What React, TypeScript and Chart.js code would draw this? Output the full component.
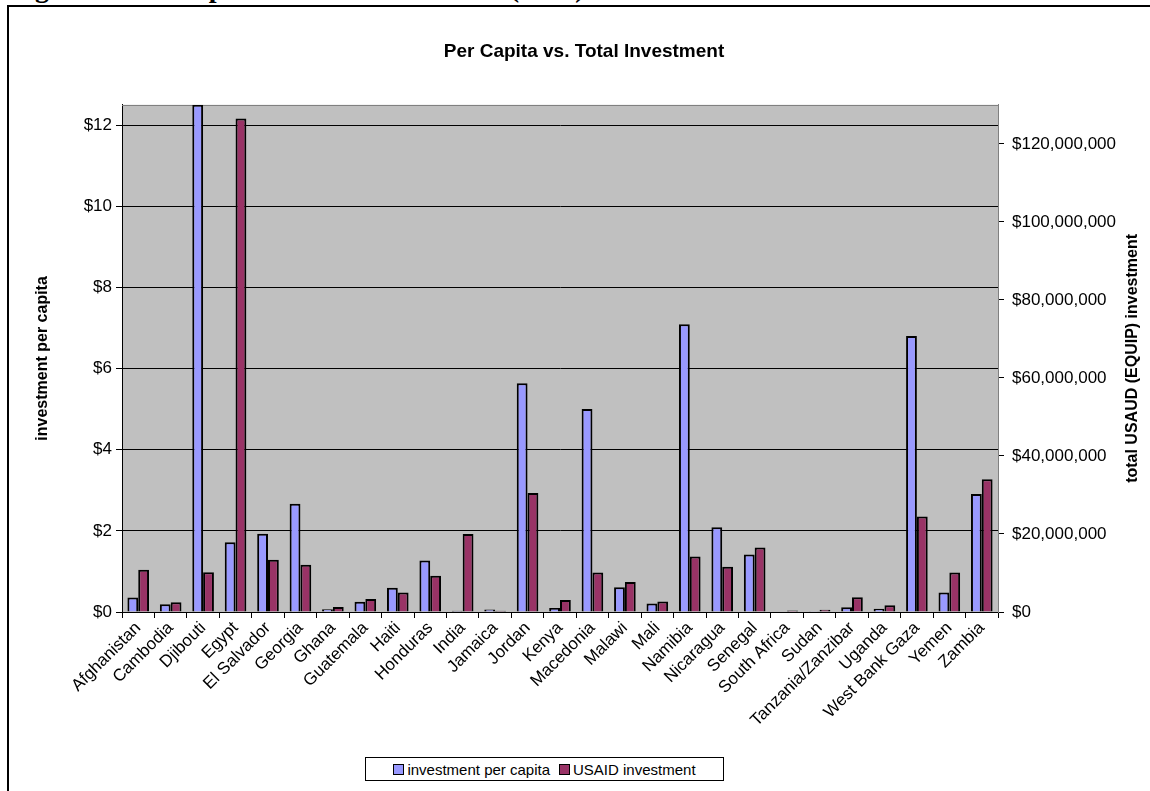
import React, { useEffect, useRef } from "react";
import { Chart, registerables } from "chart.js";

Chart.register(...registerables);

// Countries along the category axis
const countries = [
  "Afghanistan", "Cambodia", "Djibouti", "Egypt", "El Salvador", "Georgia", "Ghana",
  "Guatemala", "Haiti", "Honduras", "India", "Jamaica", "Jordan", "Kenya", "Macedonia",
  "Malawi", "Mali", "Namibia", "Nicaragua", "Senegal", "South Africa", "Sudan",
  "Tanzania/Zanzibar", "Uganda", "West Bank Gaza", "Yemen", "Zambia",
];

// Investment per capita, US dollars (left axis)
const perCapita = [
  0.36, 0.19, 12.5, 1.72, 1.93, 2.67, 0.07, 0.25, 0.6, 1.27, 0.03, 0.06, 5.64, 0.1, 5.0,
  0.61, 0.21, 7.09, 2.09, 1.42, 0.01, 0.02, 0.12, 0.08, 6.8, 0.48, 2.91,
];

// Total USAID (EQUIP) investment, US dollars (right axis)
const usaidInvestment = [
  10800000, 2500000, 10200000, 126500000, 13400000, 12100000, 1300000, 3300000, 5000000,
  9300000, 20000000, 300000, 30500000, 3100000, 10100000, 7700000, 2700000, 14200000,
  11600000, 16500000, 400000, 600000, 3800000, 1700000, 24500000, 10100000, 34000000,
];

const seriesNames = ["investment per capita", "USAID investment"];
const seriesColors = ["#9999FF", "#993366"];

// Axis ranges and tick values
const perCapitaMax = 12.5;
const perCapitaTicks = [0, 2, 4, 6, 8, 10, 12];
const totalMax = 130000000;
const totalTicks = [0, 20000000, 40000000, 60000000, 80000000, 100000000, 120000000];

const FONT = "'Liberation Sans', Arial, sans-serif";

const useTicks = (values: number[]) => (s: any) => {
  s.ticks = values.map((value) => ({ value }));
};

const plotFrame = {
  id: "plotFrame",
  beforeDraw(chart: any) {
    const { ctx, chartArea: a } = chart;
    ctx.save();
    ctx.fillStyle = "#C0C0C0";
    ctx.fillRect(a.left, a.top, a.right - a.left, a.bottom - a.top);
    ctx.restore();
  },
  beforeDatasetsDraw(chart: any) {
    const { ctx, chartArea: a } = chart;
    ctx.save();
    ctx.strokeStyle = "#808080";
    ctx.lineWidth = 1;
    ctx.beginPath();
    ctx.moveTo(a.left, Math.round(a.top) + 0.5);
    ctx.lineTo(a.right, Math.round(a.top) + 0.5);
    ctx.stroke();
    ctx.restore();
  },
  afterDraw(chart: any) {
    const { ctx, chartArea: a } = chart;
    ctx.save();
    ctx.translate(1124, (a.top + a.bottom) / 2);
    ctx.rotate(-Math.PI / 2);
    ctx.font = `bold 16px ${FONT}`;
    ctx.fillStyle = "#000";
    ctx.textAlign = "center";
    ctx.textBaseline = "middle";
    ctx.fillText("total USAUD (EQUIP) investment", 0, 0);
    ctx.restore();
  },
};

export default function App() {
  const canvasRef = useRef<HTMLCanvasElement | null>(null);

  useEffect(() => {
    if (!canvasRef.current) return;
    const chart = new Chart(canvasRef.current, {
      type: "bar",
      data: {
        labels: countries,
        datasets: [
          {
            label: seriesNames[0],
            data: perCapita,
            yAxisID: "y",
            backgroundColor: seriesColors[0],
            borderColor: "#000",
            borderWidth: 2,
            borderSkipped: "bottom",
            categoryPercentage: 2 / 3,
            barPercentage: 1,
          },
          {
            label: seriesNames[1],
            data: usaidInvestment,
            yAxisID: "y2",
            backgroundColor: seriesColors[1],
            borderColor: "#000",
            borderWidth: 2,
            borderSkipped: "bottom",
            categoryPercentage: 2 / 3,
            barPercentage: 1,
          },
        ],
      },
      options: {
        responsive: false,
        animation: false,
        events: [],
        layout: { padding: 0 },
        plugins: {
          legend: { display: false },
          tooltip: { enabled: false },
          title: {
            display: true,
            text: "Per Capita vs. Total Investment",
            color: "#000",
            font: { family: FONT, size: 19, weight: "bold" },
            padding: { top: 33, bottom: 42 },
          },
        },
        scales: {
          x: {
            offset: true,
            grid: {
              display: true,
              drawOnChartArea: false,
              drawTicks: true,
              tickLength: 6,
              color: "#000",
              offset: true,
            },
            border: { display: true, color: "#000", width: 1 },
            ticks: {
              autoSkip: false,
              maxRotation: 45,
              minRotation: 45,
              color: "#000",
              padding: 0,
              font: { family: FONT, size: 17 },
            },
            afterFit: (s: any) => {
              s.height = 185;
            },
          },
          y: {
            position: "left",
            min: 0,
            max: perCapitaMax,
            ticks: {
              color: "#000",
              padding: 4,
              font: { family: FONT, size: 17 },
              callback: (v: any) => "$" + v,
            },
            grid: { color: "#000", lineWidth: 1, tickLength: 6 },
            border: { display: true, color: "#000", width: 1 },
            title: {
              display: true,
              text: "investment per capita",
              color: "#000",
              font: { family: FONT, size: 16, weight: "bold" },
              padding: { top: 24, bottom: 0 },
            },
            afterBuildTicks: useTicks(perCapitaTicks),
            afterFit: (s: any) => {
              s.width = 113;
            },
          },
          y2: {
            position: "right",
            min: 0,
            max: totalMax,
            ticks: {
              color: "#000",
              padding: 8,
              font: { family: FONT, size: 17 },
              callback: (v: any) => "$" + Math.round(Number(v)).toLocaleString("en-US"),
            },
            grid: { drawOnChartArea: false, color: "#000", tickLength: 6 },
            border: { display: true, color: "#808080", width: 1 },
            afterBuildTicks: useTicks(totalTicks),
            afterFit: (s: any) => {
              s.width = 161;
            },
          },
        },
      },
      plugins: [plotFrame],
    });
    return () => chart.destroy();
  }, []);

  const swatch = (color: string) => (
    <span
      style={{
        display: "inline-block",
        width: 9,
        height: 9,
        background: color,
        border: "1px solid #000",
        marginRight: 3,
        boxSizing: "content-box",
      }}
    />
  );

  return (
    <div
      style={{
        position: "fixed",
        left: 0,
        top: 0,
        width: 1150,
        height: 791,
        overflow: "hidden",
        background: "#fff",
      }}
    >
      <div
        style={{
          position: "absolute",
          left: 10,
          top: -26,
          font: "bold 28px 'Liberation Serif', 'Times New Roman', serif",
          lineHeight: "28px",
          whiteSpace: "nowrap",
          color: "#000",
        }}
      >
        Figure 1: Per Capita vs. Total Investment (2003)
      </div>
      <div
        style={{
          position: "absolute",
          left: 7,
          top: 5,
          width: 1150,
          height: 800,
          border: "2px solid #000",
          background: "#fff",
        }}
      >
        <canvas
          ref={canvasRef}
          width={1150}
          height={790}
          style={{ position: "absolute", left: 0, top: 0 }}
        />
      </div>
      <div
        style={{
          position: "absolute",
          left: 365,
          top: 757,
          width: 359,
          height: 24,
          boxSizing: "border-box",
          border: "1px solid #000",
          background: "#fff",
          display: "flex",
          alignItems: "center",
          justifyContent: "center",
          font: `15px ${FONT}`,
          color: "#000",
          whiteSpace: "nowrap",
        }}
      >
        {swatch(seriesColors[0])}
        <span style={{ marginRight: 9 }}>{seriesNames[0]}</span>
        {swatch(seriesColors[1])}
        <span>{seriesNames[1]}</span>
      </div>
    </div>
  );
}
